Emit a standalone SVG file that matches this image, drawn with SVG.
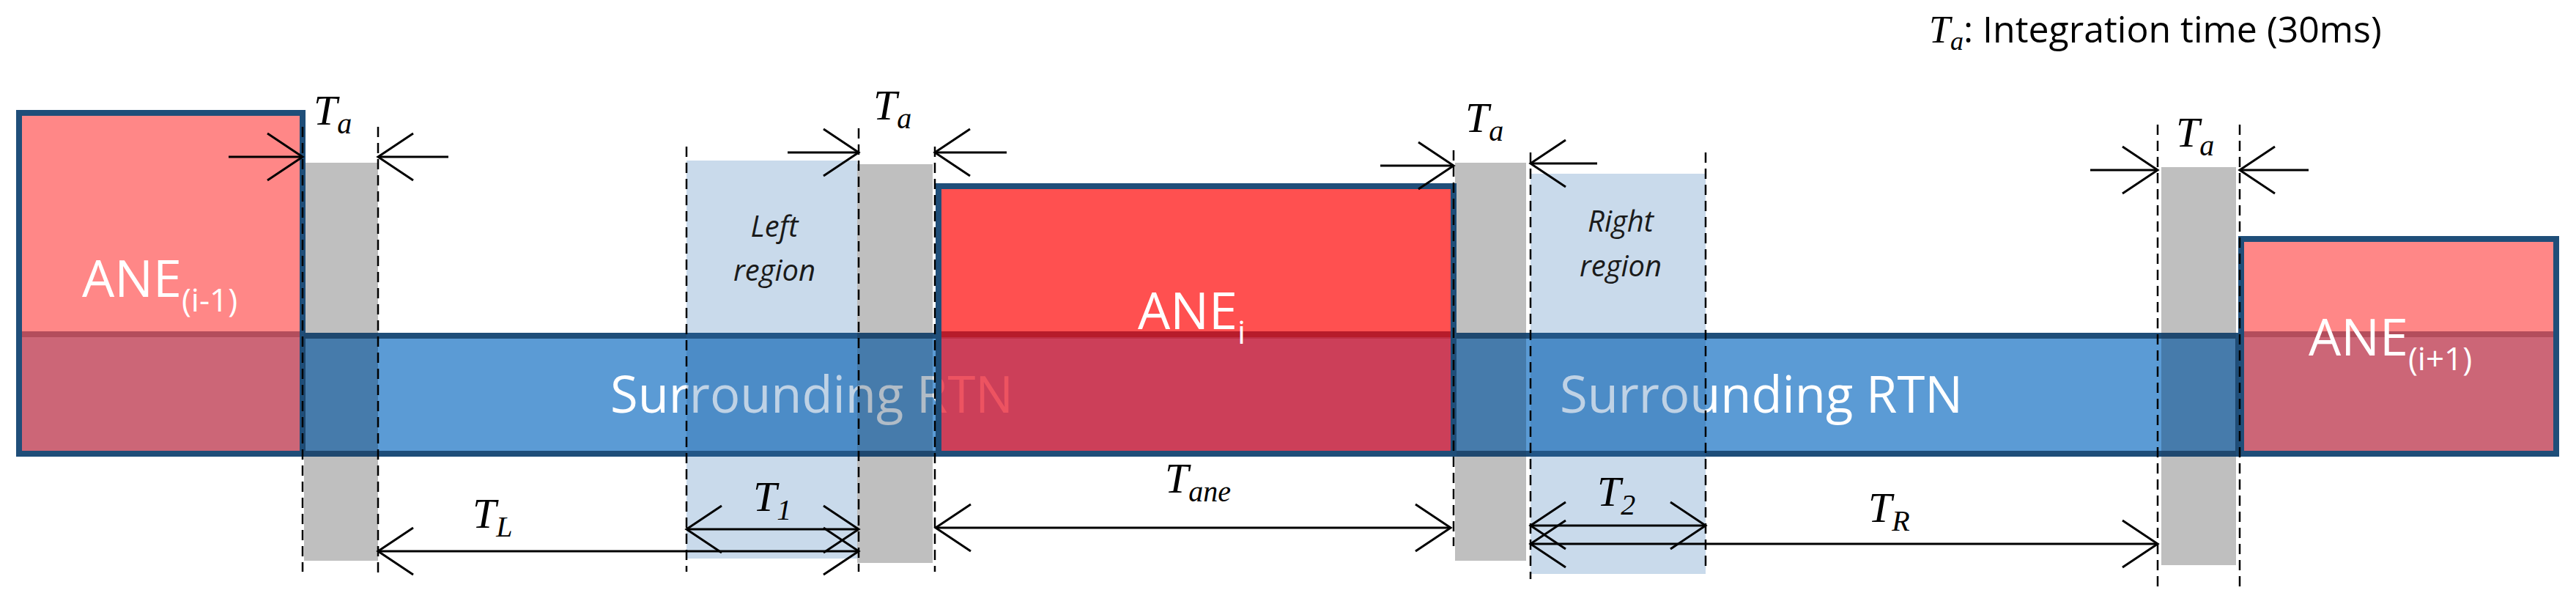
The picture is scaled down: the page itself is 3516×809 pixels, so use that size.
<svg xmlns="http://www.w3.org/2000/svg" width="3516" height="809" viewBox="0 0 3516 809">
<defs>
<marker id="ah" markerUnits="userSpaceOnUse" markerWidth="60" markerHeight="80" viewBox="-5 -40 60 80" refX="48" refY="0" orient="auto-start-reverse">
<path d="M0,-32 L48,0 L0,32" fill="none" stroke="#000" stroke-width="3"/>
</marker>
</defs>
<style>
.gray{fill:#BFBFBF}
.lb{fill:#C9DAEB}
.dash{stroke:#000;stroke-width:2.5;stroke-dasharray:14 8;fill:none}
.dim{stroke:#000;stroke-width:3;fill:none}
.w{fill:#fff;font-family:"Open Sans","Liberation Sans",sans-serif}
.it{font-family:"Open Sans","Liberation Sans",sans-serif;font-style:italic;fill:#1a1a1a;font-size:40px}
.m{font-family:"Liberation Serif","DejaVu Serif",serif;font-style:italic;fill:#000;font-size:58px}
.ms{font-size:40px}
</style>
<rect width="3516" height="809" fill="#fff"/>
<g id="regions">
<rect class="gray" x="415" y="222" width="101" height="543"/>
<rect class="lb" x="937" y="219" width="233" height="543"/>
<rect class="gray" x="1170" y="224" width="103" height="544"/>
<rect class="gray" x="1986" y="222" width="97" height="543"/>
<rect class="lb" x="2089" y="237" width="239" height="546"/>
<rect class="gray" x="2950" y="228" width="102" height="543"/>
<text class="it" x="1057" y="323" text-anchor="middle">Left</text>
<text class="it" x="1057" y="383" text-anchor="middle">region</text>
<text class="it" x="2212" y="316" text-anchor="middle">Right</text>
<text class="it" x="2212" y="377" text-anchor="middle">region</text>
</g>
<g id="ane-prev">
<rect x="22" y="150" width="391" height="304" fill="#FF8787"/>
<rect x="22" y="454" width="391" height="169" fill="#CC6677"/>
<line x1="22" y1="456" x2="413" y2="456" stroke="#B34D5C" stroke-width="8"/>
<rect x="26" y="154" width="387" height="465" fill="none" stroke="#1F4E79" stroke-width="8"/>
<text class="w" x="112" y="405" font-size="70">ANE<tspan font-size="44" dy="20">(i-1)</tspan></text>
</g>
<g id="rtn">
<rect x="413" y="458" width="2642" height="161" fill="#5B9BD5" stroke="#1F4E79" stroke-width="8"/>
<text class="w" x="833" y="563" font-size="70" textLength="550" lengthAdjust="spacingAndGlyphs">Surrounding RTN</text>
<text class="w" x="2129" y="563" font-size="70" textLength="550" lengthAdjust="spacingAndGlyphs">Surrounding RTN</text>
<g fill="#1F3F5F" fill-opacity="0.35">
<rect x="415" y="454" width="101" height="169"/>
<rect x="1170" y="454" width="103" height="169"/>
<rect x="1986" y="454" width="97" height="169"/>
<rect x="2950" y="454" width="102" height="169"/>
</g>
<g fill="#2A6BA8" fill-opacity="0.3">
<rect x="937" y="454" width="233" height="169"/>
<rect x="2089" y="454" width="239" height="169"/>
</g>
</g>
<g id="ane-i">
<rect x="1277" y="250" width="707" height="204" fill="#FF5050"/>
<rect x="1277" y="454" width="707" height="169" fill="#E8283A" fill-opacity="0.8"/>
<line x1="1277" y1="456" x2="1984" y2="456" stroke="#B71C2B" stroke-width="8"/>
<rect x="1281" y="254" width="703" height="365" fill="none" stroke="#1F4E79" stroke-width="8"/>
<text class="w" x="1553" y="449" font-size="70">ANE<tspan font-size="44" dy="20">i</tspan></text>
</g>
<g id="ane-next">
<rect x="3055" y="322" width="438" height="132" fill="#FF8787"/>
<rect x="3055" y="454" width="438" height="169" fill="#CC6677"/>
<line x1="3055" y1="456" x2="3493" y2="456" stroke="#B34D5C" stroke-width="8"/>
<rect x="3059" y="326" width="430" height="293" fill="none" stroke="#1F4E79" stroke-width="8"/>
<text class="w" x="3151" y="485" font-size="70">ANE<tspan font-size="44" dy="20">(i+1)</tspan></text>
</g>
<g id="connectors">
<line class="dash" x1="413" y1="173" x2="413" y2="780"/>
<line class="dash" x1="516" y1="173" x2="516" y2="785"/>
<line class="dash" x1="937" y1="200" x2="937" y2="780"/>
<line class="dash" x1="1172" y1="175" x2="1172" y2="780"/>
<line class="dash" x1="1276" y1="200" x2="1276" y2="780"/>
<line class="dash" x1="1984" y1="205" x2="1984" y2="745"/>
<line class="dash" x1="2089" y1="208" x2="2089" y2="790"/>
<line class="dash" x1="2328" y1="208" x2="2328" y2="780"/>
<line class="dash" x1="2945" y1="170" x2="2945" y2="800"/>
<line class="dash" x1="3057" y1="170" x2="3057" y2="800"/>
<line class="dim" x1="312" y1="214" x2="413" y2="214" marker-end="url(#ah)"/>
<line class="dim" x1="612" y1="214" x2="516" y2="214" marker-end="url(#ah)"/>
<line class="dim" x1="1075" y1="208" x2="1172" y2="208" marker-end="url(#ah)"/>
<line class="dim" x1="1374" y1="208" x2="1276" y2="208" marker-end="url(#ah)"/>
<line class="dim" x1="1884" y1="226" x2="1984" y2="226" marker-end="url(#ah)"/>
<line class="dim" x1="2180" y1="223" x2="2089" y2="223" marker-end="url(#ah)"/>
<line class="dim" x1="2853" y1="232" x2="2945" y2="232" marker-end="url(#ah)"/>
<line class="dim" x1="3151" y1="232" x2="3057" y2="232" marker-end="url(#ah)"/>
<line class="dim" x1="516" y1="752" x2="1172" y2="752" marker-start="url(#ah)" marker-end="url(#ah)"/>
<line class="dim" x1="937" y1="722" x2="1172" y2="722" marker-start="url(#ah)" marker-end="url(#ah)"/>
<line class="dim" x1="1277" y1="720" x2="1980" y2="720" marker-start="url(#ah)" marker-end="url(#ah)"/>
<line class="dim" x1="2089" y1="717" x2="2328" y2="717" marker-start="url(#ah)" marker-end="url(#ah)"/>
<line class="dim" x1="2089" y1="742" x2="2945" y2="742" marker-start="url(#ah)" marker-end="url(#ah)"/>
</g>
<g id="labels">
<text class="m" x="428" y="170">T<tspan class="ms" dy="12">a</tspan></text>
<text class="m" x="1192" y="163">T<tspan class="ms" dy="12">a</tspan></text>
<text class="m" x="2000" y="180">T<tspan class="ms" dy="12">a</tspan></text>
<text class="m" x="2970" y="200">T<tspan class="ms" dy="12">a</tspan></text>
<text class="m" x="645" y="720">T<tspan class="ms" dy="12">L</tspan></text>
<text class="m" x="1028" y="697">T<tspan class="ms" dy="12">1</tspan></text>
<text class="m" x="1590" y="672">T<tspan class="ms" dy="12">ane</tspan></text>
<text class="m" x="2180" y="690">T<tspan class="ms" dy="12">2</tspan></text>
<text class="m" x="2550" y="712">T<tspan class="ms" dy="12">R</tspan></text>
<text x="2633" y="58" font-family="Liberation Serif,serif" font-style="italic" font-size="52">T<tspan font-size="36" dy="10">a</tspan><tspan dy="-10" font-family="Open Sans,Liberation Sans,sans-serif" font-style="normal" font-size="50">: Integration time (30ms)</tspan></text>
</g>
</svg>
